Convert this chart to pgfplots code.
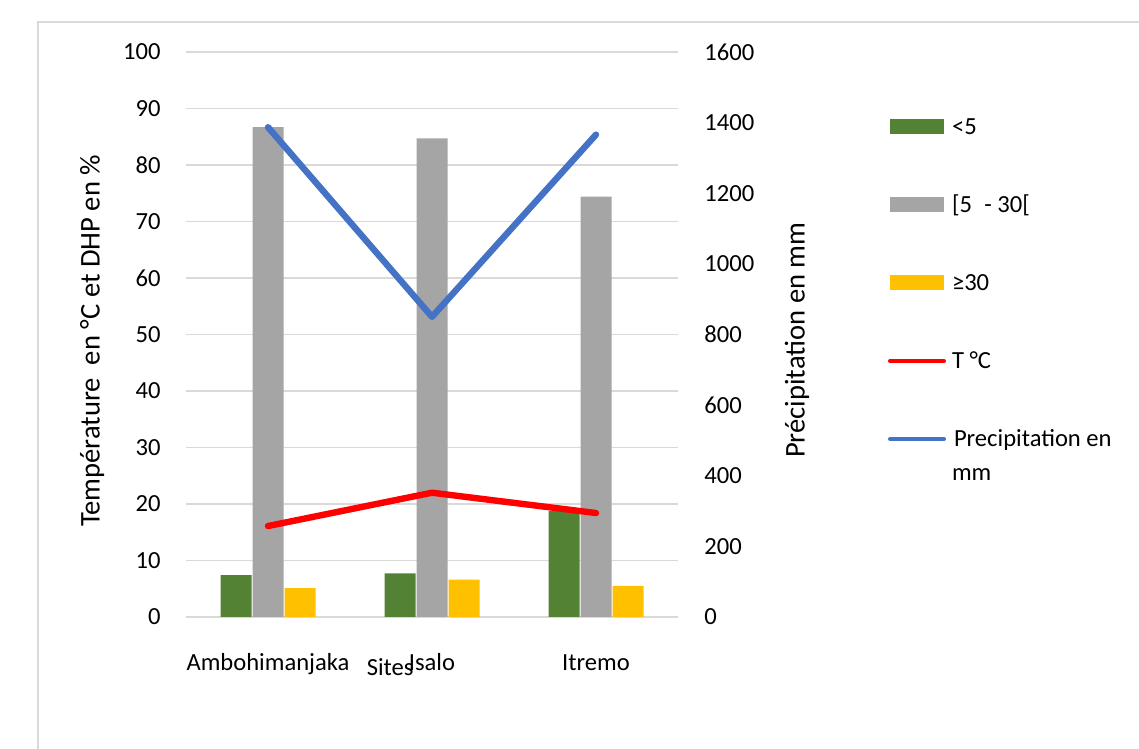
\documentclass[border=0pt]{standalone}
\usepackage{pgfplots}
\pgfplotsset{compat=1.18}
\usepackage{fontspec}
\setmainfont{Carlito}

\definecolor{cGreen}{HTML}{548235}
\definecolor{cGray}{HTML}{A5A5A5}
\definecolor{cYellow}{HTML}{FFC000}
\definecolor{cRed}{HTML}{FF0000}
\definecolor{cBlue}{HTML}{4472C4}
\definecolor{cGrid}{HTML}{D9D9D9}

\newcommand{\ylabfont}{\fontsize{14.3bp}{16bp}\selectfont}

% diameter classes (%) and temperature per site
\pgfplotstableread{
x  small mid  large temp
0  7.4   86.7 5.1   16.1
1  7.7   84.7 6.6   22.0
2  18.8  74.4 5.5   18.4
}\sitedata
% rainfall per site (mm)
\pgfplotstableread{
x  rain
0  1387
1  850
2  1366
}\raindata

\pgfplotsset{
  common/.style={
    width=246bp, height=282.5bp, scale only axis,
    at={(93bp,66bp)}, anchor=south west,
    xmin=-0.5, xmax=2.5,
    axis line style={draw=none},
    major tick length=0pt,
    tick style={draw=none},
    font=\fontsize{12.3bp}{14bp}\selectfont,
    /pgf/number format/assume math mode=true,
    /pgf/number format/1000 sep={},
  },
  barlegend/.style={legend image code/.code={\fill[##1, draw=none] (0bp,0.25bp) rectangle (27bp,7.75bp);}},
  linelegend/.style={legend image code/.code={\draw[##1, line width=2bp, line cap=round] (0bp,4bp) -- (27bp,4bp);}},
}

\begin{document}
\begin{tikzpicture}
\useasboundingbox (0,0) rectangle (569.5bp,374.5bp);
% chart frame
\draw[cGrid, line width=1bp] (19bp,-2bp) -- (19bp,363.5bp) -- (572bp,363.5bp);

\begin{axis}[common,
  ymin=0, ymax=100, ytick={0,10,...,100},
  ymajorgrids, grid style={cGrid, line width=0.8bp},
  xtick={0,1,2}, xticklabels={Ambohimanjaka, Isalo, Itremo},
  xticklabel style={anchor=base, inner sep=0pt, yshift=-26.8bp},
  yticklabel style={anchor=east, inner sep=0pt, xshift=-12.5bp},
  xlabel={Sites},
  every axis x label/.style={at={(rel axis cs:0.415,0)}, anchor=base, inner sep=0pt, yshift=-29bp},
  ylabel={Température\ \ en °C et DHP en \%},
  every axis y label/.style={at={(rel axis cs:-0.191,0.4885)}, rotate=90, anchor=center, inner sep=0pt, font=\ylabfont},
]
\addplot[ybar, bar width=15.5bp, bar shift=-16bp, fill=cGreen, draw=none] table[x=x, y=small] {\sitedata};
\addplot[ybar, bar width=15.5bp, bar shift=0bp, fill=cGray, draw=none] table[x=x, y=mid] {\sitedata};
\addplot[ybar, bar width=15.5bp, bar shift=16bp, fill=cYellow, draw=none] table[x=x, y=large] {\sitedata};
\addplot[cRed, line width=3.2bp, line cap=round, line join=round, mark=none] table[x=x, y=temp] {\sitedata};
\end{axis}

\begin{axis}[common,
  ymin=0, ymax=1600, ytick={0,200,...,1600},
  axis x line=none,
  axis y line*=right,
  yticklabel style={anchor=west, inner sep=0pt, xshift=13bp},
  ylabel={Précipitation en mm},
  every axis y label/.style={at={(rel axis cs:1.242,0.49)}, rotate=90, anchor=center, inner sep=0pt, font=\ylabfont},
  legend style={at={(rel axis cs:1.4268,0.885)}, anchor=north west, draw=none, fill=none,
    inner sep=0pt, outer sep=0pt,
    font=\fontsize{12.3bp}{17bp}\selectfont,
    row sep=27bp, column sep=0bp,
    nodes={inner sep=0pt, outer sep=0pt, text height=9bp, text depth=3bp},
    cells={anchor=base west}},
]
\addlegendimage{barlegend, fill=cGreen}
\addlegendentry{\hspace{3bp}<5}
\addlegendimage{barlegend, fill=cGray}
\addlegendentry{\hspace{3bp}[5\enspace- 30[}
\addlegendimage{barlegend, fill=cYellow}
\addlegendentry{\hspace{3bp}≥30}
\addlegendimage{linelegend, cRed}
\addlegendentry{\hspace{3bp}T °C}
\addplot[cBlue, line width=3.2bp, line cap=round, line join=round, mark=none, linelegend] table[x=x, y=rain] {\raindata};
\addlegendentry{{\hspace{3bp}\parbox[t]{80bp}{\hspace{1bp}Precipitation en\\mm}}}
\end{axis}
\end{tikzpicture}
\end{document}
